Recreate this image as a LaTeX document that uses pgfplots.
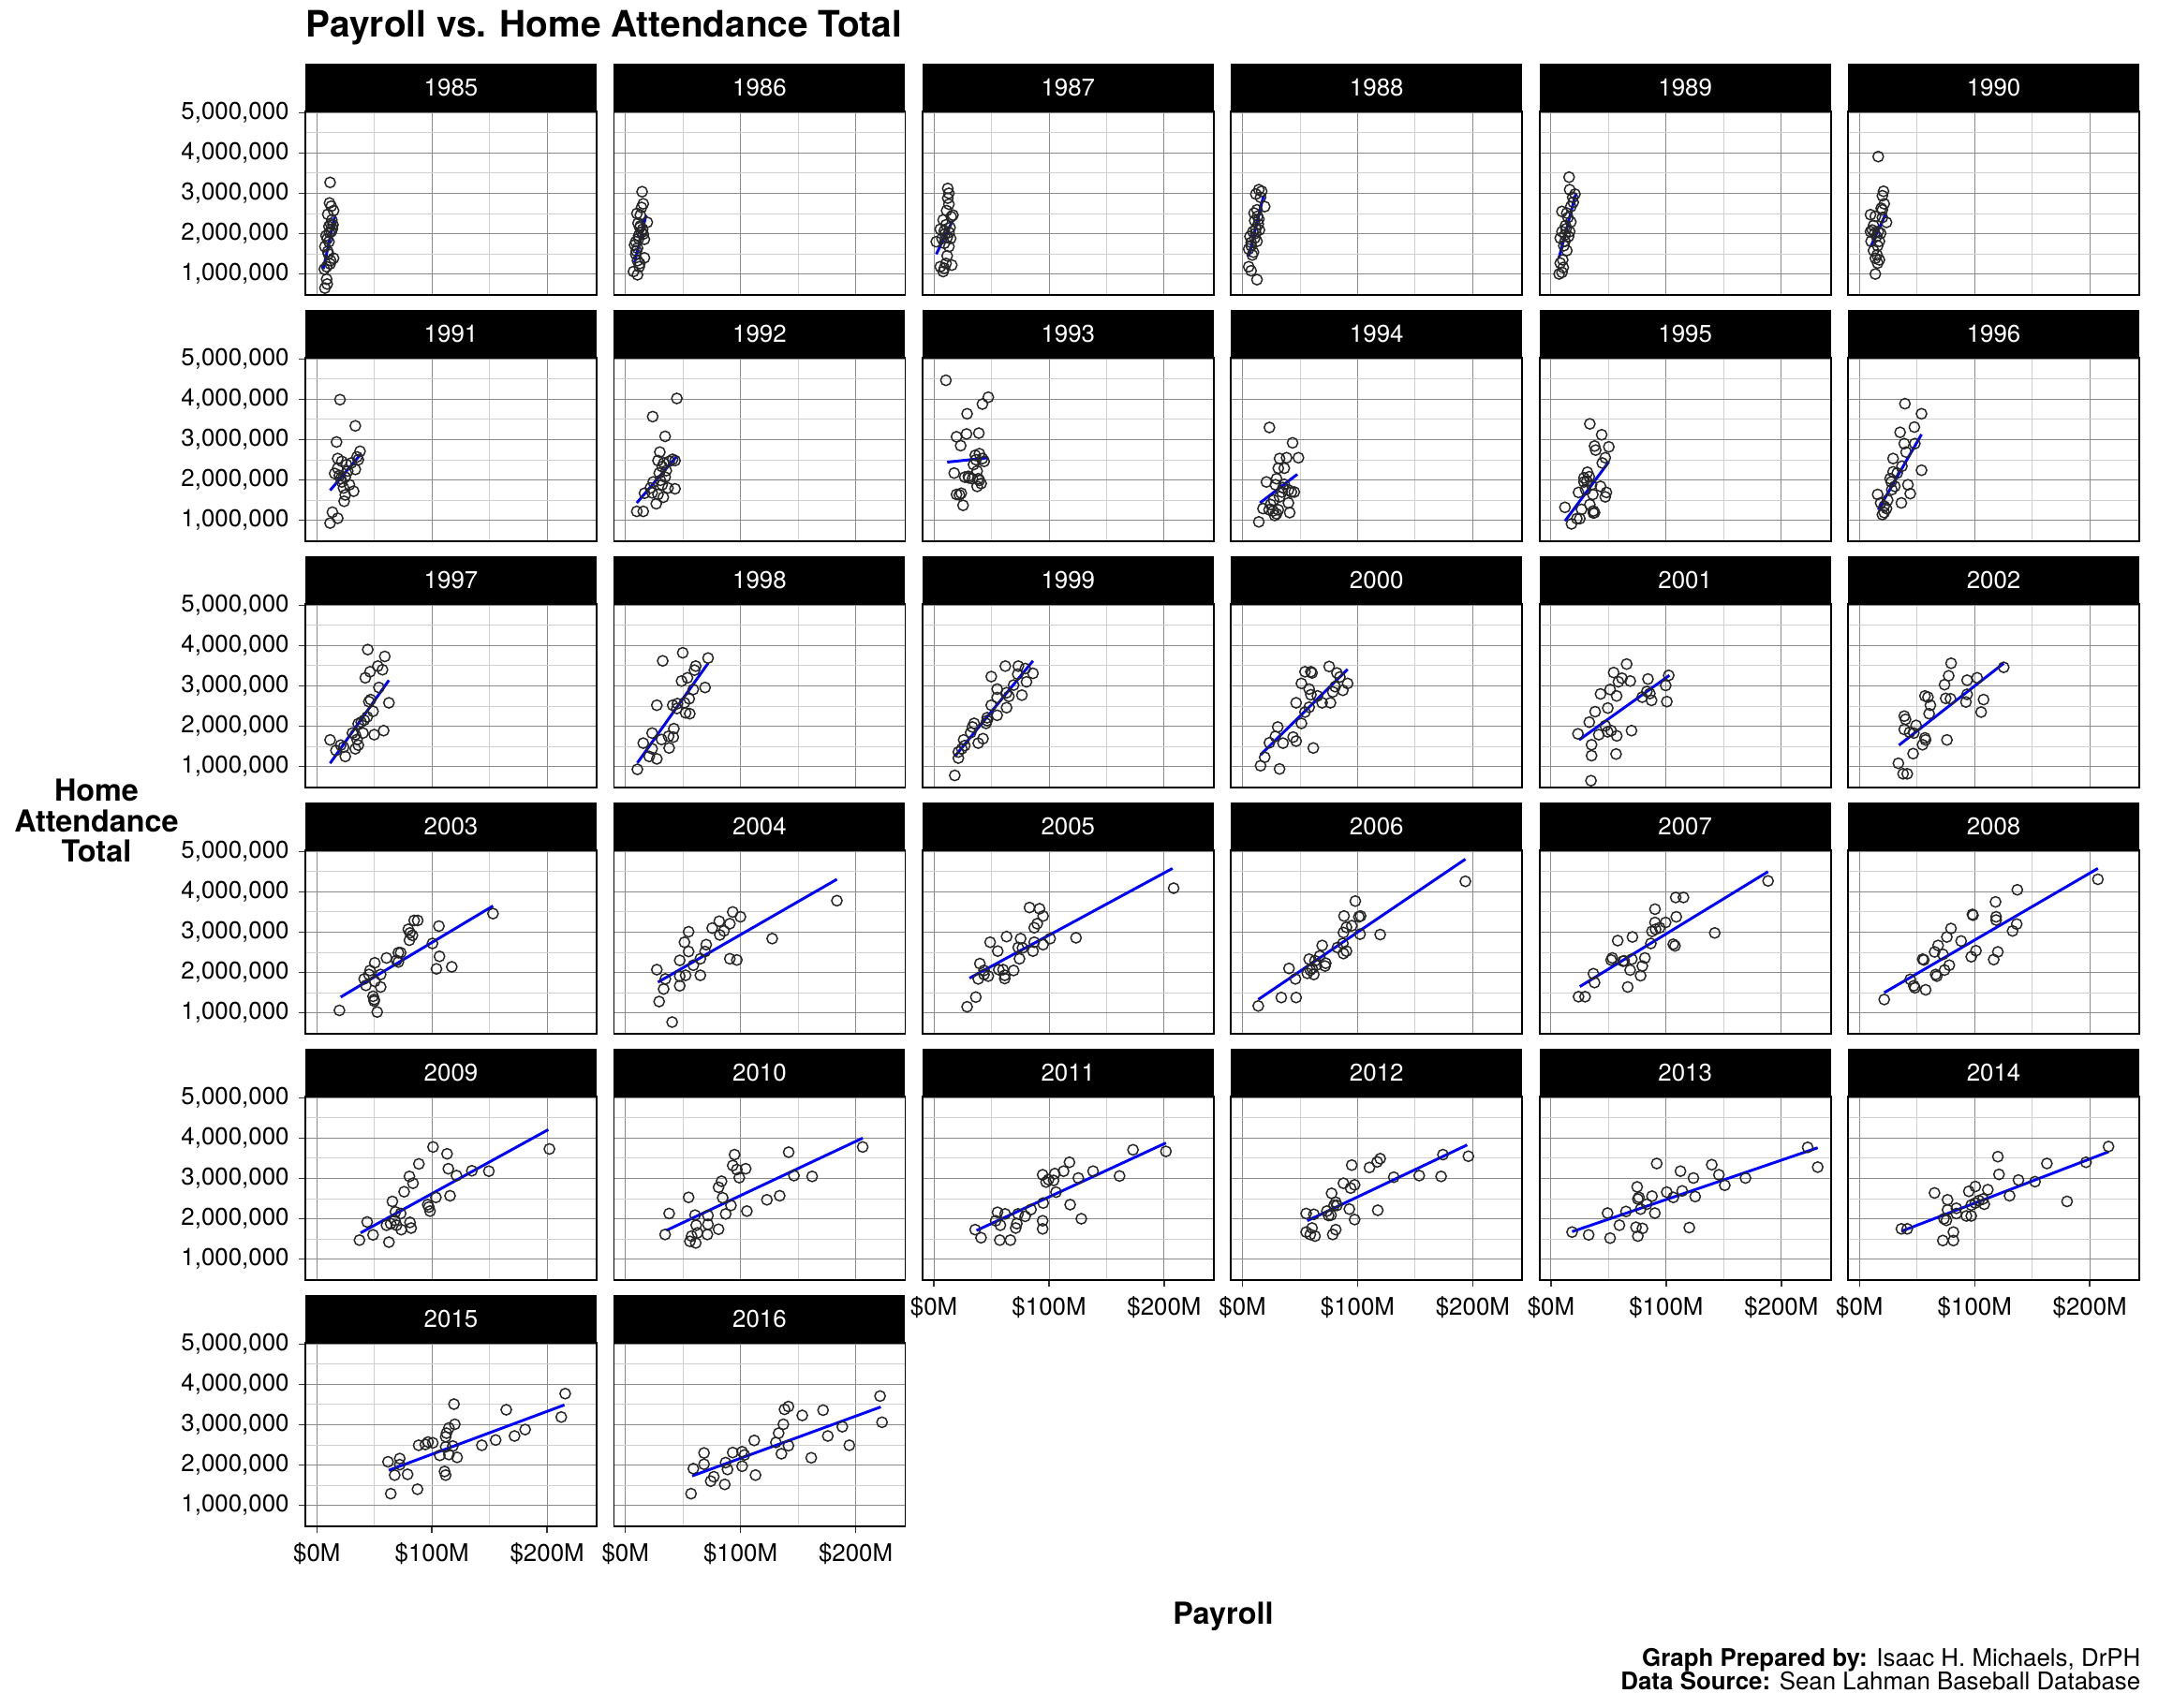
\documentclass[border=0pt]{standalone}
\usepackage{fontspec}
\setmainfont{TeX Gyre Heros}
\usepackage{pgfplots}
\pgfplotsset{compat=1.18}

% one facet = one season; payroll in $M, attendance in millions
\pgfplotsset{
  facet/.style={
    anchor=north west, scale only axis, width=105.74pt, height=66.64pt,
    xmin=-10, xmax=243, ymin=0.48, ymax=5.03,
    xtick={0,100,200}, minor xtick={50,150},
    ytick={1,2,3,4,5}, minor ytick={0.5,1.5,2.5,3.5,4.5},
    grid=both,
    major grid style={black!45, line width=0.35pt},
    minor grid style={black!18, line width=0.3pt},
    axis line style={black, line width=0.6pt},
    tick align=outside, xtick pos=bottom, ytick pos=left,
    major tick length=2.4pt, minor tick length=0pt,
    tick style={black!80, line width=0.5pt},
    xticklabels={}, yticklabels={},
    ticklabel style={font=\fontsize{8.8}{9}\selectfont, text=black},
    title style={at={(0.5,1)}, anchor=south, yshift=-6pt, fill=black, text=white,
      minimum width=105.74pt, minimum height=17pt, inner sep=0pt,
      font=\fontsize{8.8}{9}\selectfont},
  },
  nox/.style={xtick style={draw=none}},
  noy/.style={ytick style={draw=none}},
  xl/.style={xticklabels={\$0M,\$100M,\$200M}},
  yl/.style={yticklabels={{1,000,000},{2,000,000},{3,000,000},{4,000,000},{5,000,000}}},
}

\newcommand{\facet}[6]{%
  \begin{axis}[facet, at={({110.84pt+112pt*#1},{-40.46pt-89.42pt*#2})}, title={#3}, #6]
    \addplot[only marks, mark=o, mark size=1.9pt, mark options={draw=black!85, line width=0.5pt}] coordinates {#4};
    \addplot[blue, line width=1pt, no marks] coordinates {#5};
  \end{axis}}

\begin{document}
\begin{tikzpicture}
\useasboundingbox (0,0) rectangle (783.36pt,-620.16pt);

\node[anchor=west, inner sep=0pt, font=\bfseries\fontsize{13.2}{14}\selectfont] at (110.84pt,-9.9pt) {Payroll vs. Home Attendance Total};

% row 0
\facet{0}{0}{1985}{(11.5,3.27)(11.0,2.76)(12.5,2.68)(14.5,2.57)(9.5,2.48)(13.0,2.34)(12.0,2.24)(14.0,2.22)(10.5,2.18)(13.5,2.12)(11.0,2.03)(9.0,1.87)(10.5,1.80)(7.0,1.68)(9.5,1.56)(14.5,1.39)(12.0,1.33)(8.5,1.18)(6.5,1.12)(11.5,1.25)(8.5,0.87)(9.0,0.75)(7.0,0.65)(10.0,1.50)(12.5,2.05)(8.0,1.95)}{(5.5,1.12)(15.5,2.42)}{nox,yl}
\facet{1}{0}{1986}{(14.5,3.04)(15.5,2.74)(14,2.65)(10,2.50)(13,2.46)(19,2.28)(12.5,2.15)(15.5,1.99)(11.5,1.95)(16.5,1.86)(8,1.72)(10.5,1.64)(9,1.49)(16.5,1.40)(10.5,1.33)(12.5,1.26)(7,1.06)(10.5,0.98)(11.5,1.88)(14,2.03)(9.5,1.57)(12,1.18)(13,2.19)(15,2.11)(9,1.80)(11,2.26)}{(8,1.29)(18,2.46)}{nox,noy}
\facet{2}{0}{1987}{(12,3.12)(13,3.0)(12,2.88)(13,2.73)(16.5,2.46)(8,2.34)(10.5,2.22)(14,2.15)(5.5,2.11)(9,2.07)(13,2.03)(11.5,1.91)(14.5,1.88)(2,1.80)(9,1.76)(13,1.68)(11.5,1.45)(15.5,1.22)(5.5,1.18)(9,1.14)(8,1.06)(10.5,1.26)(7,1.88)(15,2.42)(11,2.57)(9.5,1.99)}{(2,1.49)(16.5,2.34)}{nox,noy}
\facet{3}{0}{1988}{(14.2,3.09)(16.7,3.05)(11.6,2.98)(15.7,2.9)(19.3,2.67)(12.6,2.59)(13.1,2.43)(10.6,2.32)(13.7,2.24)(11.6,2.12)(14.7,2.09)(9,2.05)(6.5,1.93)(10.6,1.89)(12.6,1.81)(7.5,1.70)(5.4,1.62)(9.5,1.54)(8.5,1.47)(5.4,1.18)(7.5,1.08)(12.6,0.86)(11.6,2.01)(14.2,2.36)(10.1,2.51)(7.5,1.78)}{(5.4,1.43)(18.3,2.94)}{nox,noy}
\facet{4}{0}{1989}{(15.7,3.40)(16.2,3.09)(20.8,2.98)(18.8,2.9)(9.5,2.55)(13.7,2.51)(17.2,2.29)(13.1,2.12)(9.5,2.05)(12.1,1.97)(15.2,1.93)(8,1.89)(12.1,1.81)(13.7,1.58)(10.1,1.35)(8,1.27)(9.5,1.04)(7,1.0)(17.2,2.67)(14.7,2.40)(11.1,1.70)(19.3,2.78)(12.6,2.20)(10.6,1.16)(16.2,2.05)}{(7,1.41)(21.4,2.98)}{nox,noy}
\facet{5}{0}{1990}{(16.2,3.91)(20.8,3.05)(19.8,2.94)(21.4,2.74)(19.8,2.59)(9.5,2.47)(13.7,2.43)(23.4,2.28)(11,2.09)(16.2,2.05)(18.3,2.01)(17.2,1.81)(9.5,2.05)(12.1,1.58)(15.2,1.47)(13.7,1.39)(15.7,1.27)(13.7,1.0)(18.8,2.63)(12.1,2.20)(15.7,1.70)(14.7,1.93)(10,1.81)(19.8,2.40)(17.2,1.35)(13.1,2.01)}{(10,1.70)(22.4,2.47)}{nox,noy}

% row 1
\facet{0}{1}{1991}{(20.1,3.99)(33.4,3.34)(17.1,2.94)(37.5,2.71)(34.9,2.57)(18.1,2.53)(21.7,2.46)(25.8,2.38)(33.4,2.26)(18.1,2.29)(15.5,2.16)(19.6,2.11)(24.7,2.07)(20.7,2.03)(28.3,1.88)(23.2,1.80)(31.9,1.72)(24.7,1.63)(23.7,1.47)(13.5,1.20)(18.1,1.05)(11.5,0.93)(29.9,2.42)(26.8,2.22)(21.7,1.95)(36,2.50)}{(11.5,1.74)(38.5,2.65)}{nox,yl}
\facet{1}{1}{1992}{(44.7,4.02)(23.7,3.57)(34.5,3.08)(29.9,2.69)(28.3,2.48)(43.1,2.48)(41,2.51)(31.9,2.33)(35.5,2.23)(29.4,2.17)(34.5,2.07)(24.2,1.95)(31.9,1.88)(37,1.80)(43.1,1.78)(23.2,1.68)(28.3,1.64)(32.9,1.57)(16.6,1.67)(26.8,1.41)(9.9,1.22)(15.5,1.22)(38,2.46)(30.4,1.99)(21.7,1.80)(33.4,2.42)}{(9.9,1.43)(44.7,2.59)}{nox,noy}
\facet{2}{1}{1993}{(10.4,4.47)(47.2,4.05)(42.1,3.88)(28.8,3.64)(39,3.16)(28.3,3.14)(19.6,3.07)(23.2,2.85)(35.9,2.61)(39.5,2.65)(43.6,2.46)(34.4,2.38)(37.5,2.22)(17.6,2.17)(26.8,2.07)(30.3,2.05)(38.5,2.03)(41,1.91)(37.5,1.84)(19.6,1.64)(23.7,1.67)(25.3,1.37)(33.4,2.03)(42.1,2.53)(29.9,2.09)(22.1,1.63)(39.5,1.99)(36.5,2.50)}{(11.5,2.44)(47.2,2.55)}{nox,noy}
\facet{3}{1}{1994}{(23.4,3.30)(43.5,2.92)(32.2,2.53)(38.3,2.55)(48.6,2.55)(31.1,2.29)(36.3,2.29)(20.8,1.95)(29.6,2.03)(28.6,1.88)(36.3,1.89)(39.9,1.75)(42.5,1.70)(45,1.70)(32.2,1.58)(27,1.50)(39.9,1.43)(17.8,1.29)(23.1,1.26)(26.5,1.23)(31.1,1.26)(28,1.12)(29.6,1.16)(41,1.19)(14.2,0.96)(35.2,1.81)(24.4,1.39)(34.2,1.70)}{(15.2,1.43)(47.6,2.14)}{nox,noy}
\facet{4}{1}{1995}{(33.7,3.39)(44,3.12)(37.8,2.84)(38.8,2.74)(50.2,2.82)(47.1,2.55)(31.6,2.19)(28.6,2.05)(31.1,1.97)(35.2,1.88)(43,1.84)(23.9,1.69)(36.3,1.64)(48.1,1.69)(47.1,1.58)(12.1,1.32)(26.5,1.27)(33.7,1.39)(36.8,1.23)(36.8,1.18)(22.4,1.04)(25,1.04)(17.8,0.91)(30.1,1.76)(33.2,2.08)(28.6,1.95)(37.8,1.19)(44.5,2.42)}{(12.1,0.98)(50.2,2.45)}{nox,noy}
\facet{5}{1}{1996}{(39.4,3.89)(53.8,3.64)(47.6,3.31)(35.2,3.18)(38.8,2.90)(48,2.90)(40.4,2.69)(29.1,2.53)(53.8,2.24)(29.1,2.20)(32.7,2.17)(26.5,2.03)(42,1.88)(30.6,1.84)(28,1.76)(44,1.66)(15.7,1.64)(36.3,1.43)(18.3,1.43)(21.4,1.35)(21.4,1.19)(19.8,1.14)(23.4,1.29)(27.5,1.95)(36.8,2.34)(24.4,1.50)}{(16.2,1.26)(53.8,3.13)}{nox,noy}

% row 2
\facet{0}{2}{1997}{(44.2,3.90)(59,3.73)(52.9,3.49)(57,3.40)(46.2,3.35)(42.1,3.20)(53.9,2.96)(46.7,2.66)(45.2,2.61)(62.6,2.58)(48.8,2.37)(43.7,2.23)(38.5,2.10)(35.9,2.06)(58,1.89)(49.8,1.79)(40.1,1.83)(33.4,1.79)(11.5,1.66)(20.7,1.53)(36,1.53)(16.6,1.40)(24.7,1.25)(33.4,1.44)(34.9,1.67)(30.9,1.83)(41.1,2.15)(23.2,1.48)}{(11.5,1.08)(62.6,3.14)}{nox,yl}
\facet{1}{2}{1998}{(49.8,3.82)(32.4,3.62)(71.8,3.69)(61.1,3.49)(60,3.39)(48.8,3.12)(53.9,3.20)(69.2,2.96)(58.9,2.91)(55.4,2.68)(51.3,2.58)(27.3,2.52)(41.1,2.52)(44.7,2.44)(52.3,2.33)(55.9,2.31)(42.1,1.94)(23.2,1.83)(37.5,1.75)(41.6,1.73)(15.5,1.58)(23.2,1.44)(38,1.46)(20.7,1.25)(27.3,1.19)(10.4,0.93)(45.2,2.56)(31.4,1.67)}{(10.4,1.09)(71.8,3.56)}{nox,noy}
\facet{2}{2}{1999}{(62,3.49)(73.3,3.49)(79.4,3.43)(86,3.31)(49.8,3.23)(72.8,3.29)(80.4,3.10)(69.2,3.02)(54.9,2.92)(63.1,2.83)(76.4,2.77)(54.9,2.71)(65.1,2.74)(49.8,2.52)(63.1,2.46)(54.9,2.27)(46.2,2.21)(45.2,2.07)(34.9,2.07)(31.9,1.84)(42.6,1.69)(38.5,1.58)(25.8,1.66)(24.2,1.44)(21.2,1.36)(21.2,1.21)(18.1,0.78)(26.8,1.52)(33.4,1.98)(46.2,2.14)}{(18.1,1.25)(86,3.62)}{nox,noy}
\facet{3}{2}{2000}{(75.3,3.48)(54.3,3.35)(60.4,3.32)(59.4,3.35)(82,3.32)(84.6,3.22)(91.3,3.06)(51.2,3.06)(57.9,2.92)(87.2,2.89)(78.4,2.85)(59.4,2.78)(46.6,2.58)(69.2,2.58)(76.4,2.58)(57.9,2.47)(54.3,2.35)(51.2,2.07)(30.6,1.98)(28.6,1.75)(44,1.73)(23.4,1.59)(35.2,1.58)(46.6,1.63)(61.5,1.46)(19.3,1.23)(15.7,1.02)(32.2,0.94)(80.5,2.98)(65.1,2.75)}{(15.7,1.29)(91.3,3.41)}{nox,noy}
\facet{4}{2}{2001}{(65.7,3.54)(54.4,3.33)(61.6,3.19)(58.5,3.10)(68.8,3.12)(84.2,3.17)(102.2,3.26)(99.6,3.01)(51.3,2.91)(57,2.75)(43,2.80)(79.2,2.72)(85.8,2.81)(87.3,2.64)(100.6,2.61)(49.3,2.45)(38.3,2.36)(33.2,2.10)(47.1,2.01)(52.2,1.89)(49.2,1.86)(69.9,1.89)(23.4,1.81)(41.5,1.79)(57.1,1.76)(35.2,1.54)(35.2,1.27)(56.5,1.31)(34.7,0.65)(83.2,2.86)}{(24.4,1.66)(102.8,3.26)}{nox,noy}
\facet{5}{2}{2002}{(79.5,3.56)(77.4,3.25)(102.1,3.20)(93.4,3.14)(125.2,3.46)(73.8,3.03)(56.8,2.75)(59.4,2.72)(74.8,2.69)(93.4,2.79)(107.7,2.66)(92.4,2.60)(61.5,2.52)(105.6,2.35)(60.4,2.31)(38.8,2.25)(39.9,2.17)(49.1,2.02)(38.8,1.92)(43.5,1.85)(56.8,1.71)(57.3,1.66)(54.7,1.54)(75.9,1.66)(46.5,1.32)(33.7,1.08)(37.8,0.82)(41.4,0.82)(47.1,1.83)(79,2.68)}{(34.2,1.53)(125.2,3.56)}{nox,noy}

% row 3
\facet{0}{3}{2003}{(153,3.46)(84.5,3.29)(87.6,3.29)(106,3.15)(79.4,3.07)(80.9,2.98)(83,2.92)(80.4,2.80)(100.4,2.72)(72.8,2.49)(70.8,2.49)(60.5,2.36)(69.2,2.30)(70.8,2.26)(106.5,2.40)(50.3,2.24)(103.9,2.09)(117.2,2.14)(46.2,2.05)(55.4,1.95)(41.1,1.84)(50.3,1.78)(42.6,1.68)(55.4,1.64)(48.8,1.41)(49.8,1.33)(49.8,1.29)(19.6,1.06)(52.4,1.02)(45.2,1.95)}{(20.7,1.39)(153,3.65)}{nox,yl}
\facet{1}{3}{2004}{(183.7,3.78)(93.2,3.50)(99.9,3.38)(81.5,3.27)(90.7,3.21)(75.4,3.10)(85.6,3.03)(54.9,3.01)(82,2.93)(51.3,2.75)(127.5,2.84)(54.9,2.52)(69.2,2.52)(65.1,2.34)(47.2,2.30)(59,2.18)(90.7,2.34)(96.8,2.31)(27.3,2.07)(52.3,1.93)(47.2,1.91)(65.1,1.93)(34.7,1.84)(47.2,1.67)(33.2,1.59)(29.3,1.28)(40.6,0.77)(70.2,2.69)}{(28.3,1.76)(183.7,4.31)}{nox,noy}
\facet{2}{3}{2005}{(208.2,4.09)(83,3.61)(91.7,3.58)(94.8,3.40)(89.7,3.21)(87.1,3.11)(63.1,2.89)(48.8,2.75)(75.3,2.84)(100.9,2.84)(123.4,2.86)(87.1,2.75)(94.8,2.69)(73.2,2.62)(86,2.53)(55.4,2.53)(74.3,2.34)(39.9,2.22)(43.5,2.05)(56.3,2.07)(69.2,2.05)(61.5,1.93)(43.5,1.95)(61.5,1.85)(38.5,1.84)(47.2,1.91)(36.4,1.39)(28.8,1.15)(76.9,2.61)(60,2.07)}{(30.9,1.86)(207.2,4.58)}{nox,noy}
\facet{3}{3}{2006}{(193.6,4.26)(98,3.77)(88.2,3.40)(101.1,3.38)(102.6,3.40)(94.9,3.16)(90.3,3.12)(87.7,2.99)(102.1,2.95)(119.6,2.94)(82.5,2.62)(87.2,2.72)(69.2,2.67)(90.3,2.53)(87.7,2.47)(67.1,2.41)(57.9,2.33)(63,2.29)(71.7,2.16)(60.4,2.10)(56.3,1.98)(61.9,1.95)(40.4,2.10)(46,1.84)(33.7,1.38)(46.6,1.38)(13.7,1.17)(64,2.18)(72.3,2.23)(58.9,2.06)}{(13.7,1.33)(193.6,4.81)}{nox,noy}
\facet{4}{3}{2007}{(188.5,4.27)(108.3,3.86)(115,3.86)(90.3,3.57)(108.8,3.38)(90.3,3.24)(99.5,3.24)(94.4,3.11)(87.7,3.02)(90.8,3.07)(142.2,2.98)(57.9,2.79)(70.7,2.88)(86.7,2.72)(106.2,2.70)(107.7,2.66)(53.2,2.36)(52.2,2.31)(62.5,2.28)(70.2,2.33)(81.5,2.36)(68.7,2.06)(79.3,2.16)(77.8,1.92)(36.8,1.97)(37.8,1.75)(66.6,1.64)(23.9,1.40)(29.6,1.40)(63.5,2.29)}{(25,1.65)(188.5,4.50)}{nox,noy}
\facet{5}{3}{2008}{(207,4.31)(137,4.05)(118.1,3.75)(98,3.44)(98.5,3.42)(118.6,3.38)(118.6,3.30)(136.5,3.20)(79.4,3.09)(132.9,3.03)(75.8,2.88)(88.2,2.78)(68.2,2.67)(72.4,2.45)(65.2,2.51)(54.8,2.33)(55.8,2.31)(101.1,2.54)(97,2.39)(120.1,2.51)(116.5,2.32)(77.9,2.18)(73.8,2.06)(66.1,1.95)(67.1,1.91)(44,1.83)(47.1,1.67)(48.1,1.62)(57.4,1.57)(21.4,1.33)}{(21.4,1.50)(207,4.58)}{nox,noy}

% row 4
\facet{0}{4}{2009}{(202,3.73)(100.9,3.78)(113.1,3.61)(88.6,3.36)(114.2,3.24)(134.6,3.19)(149.4,3.18)(121.3,3.07)(80.4,3.05)(83.5,2.88)(75.8,2.67)(103.4,2.53)(115.7,2.57)(65.6,2.43)(96.3,2.35)(97.3,2.29)(98.3,2.19)(68.2,2.17)(72.8,2.13)(43.7,1.92)(60.5,1.84)(64.1,1.88)(69.2,1.84)(80.9,1.91)(81.9,1.77)(73.3,1.73)(48.8,1.60)(37,1.47)(62.6,1.42)(67.7,1.96)}{(38,1.65)(201,4.21)}{nox,yl}
\facet{1}{4}{2010}{(206.1,3.78)(141.8,3.65)(94.8,3.59)(93.2,3.32)(104.5,3.24)(96.8,3.22)(98.9,3.02)(146.4,3.07)(162.2,3.05)(83.5,2.93)(80.9,2.78)(84.5,2.52)(54.9,2.53)(134,2.57)(122.9,2.47)(91.7,2.33)(105.5,2.19)(38,2.13)(60.5,2.09)(71.7,2.08)(61.5,1.84)(71.7,1.86)(80.9,1.74)(34.5,1.61)(57.5,1.57)(71.2,1.61)(56,1.44)(61.1,1.40)(62.6,1.65)(87.1,2.12)}{(35.5,1.71)(206.1,4.00)}{nox,noy}
\facet{2}{4}{2011}{(201.5,3.67)(172.9,3.71)(161.2,3.06)(117.7,3.40)(112.6,3.18)(105,3.12)(138.2,3.18)(125.4,3.01)(94.4,3.09)(99.5,2.97)(97.4,2.91)(103.9,2.95)(106,2.66)(118.3,2.35)(128,2.0)(94.9,2.39)(84.3,2.23)(79.2,2.06)(73,2.12)(61.8,2.12)(55.2,2.16)(53.6,1.95)(57.7,1.84)(72,1.88)(71,1.77)(94.4,1.95)(94.4,1.75)(35.8,1.73)(40.9,1.53)(57.2,1.47)(66.4,1.47)}{(37,1.71)(201.5,3.88)}{xl,noy}
\facet{3}{4}{2012}{(196.2,3.55)(174.1,3.59)(153.5,3.07)(172.5,3.05)(131.4,3.03)(119.6,3.49)(117,3.41)(110.3,3.27)(94.9,3.33)(87.7,2.88)(97.4,2.84)(93.9,2.76)(77.4,2.63)(81,2.41)(82,2.33)(92.8,2.24)(117.5,2.21)(55.3,2.13)(62,2.11)(73.3,2.19)(74.8,2.08)(76.9,2.09)(97.4,1.98)(81,1.73)(60.4,1.77)(55.3,1.67)(58.9,1.61)(63,1.57)(78.4,1.61)(79.5,2.33)}{(56.3,1.95)(195.1,3.83)}{xl,noy}
\facet{4}{4}{2013}{(222.9,3.77)(231.6,3.28)(91.8,3.37)(139.6,3.34)(145.8,3.09)(112.4,3.18)(123.7,3.01)(168.9,3.01)(150.9,2.83)(74.8,2.79)(100.5,2.66)(113.9,2.69)(106.2,2.53)(125.2,2.55)(87.7,2.56)(76.4,2.53)(75.4,2.49)(83.1,2.36)(77.8,2.24)(90.2,2.14)(65.1,2.18)(49.1,2.14)(59.4,1.84)(73.8,1.79)(79.4,1.76)(75.4,1.57)(120.1,1.78)(32.7,1.60)(18.3,1.67)(51.3,1.52)}{(18.3,1.68)(231.6,3.76)}{xl,noy}
\facet{5}{4}{2014}{(216.2,3.79)(196.7,3.40)(162.7,3.37)(120.1,3.54)(121.1,3.10)(138,2.96)(152.4,2.92)(130.3,2.57)(180.2,2.43)(100.5,2.80)(94.9,2.68)(111.4,2.72)(65.1,2.64)(107.2,2.49)(103.6,2.45)(100.5,2.39)(108.3,2.36)(97,2.34)(76.4,2.47)(76.4,2.22)(84.1,2.26)(84.1,2.13)(92.8,2.07)(97,2.07)(73.3,2.0)(75.4,1.96)(36.3,1.75)(41.4,1.75)(81.5,1.67)(72.3,1.46)(81.5,1.46)}{(36.3,1.69)(216.2,3.66)}{xl,noy}

% row 5
\facet{0}{5}{2015}{(215.7,3.77)(212.3,3.19)(119.1,3.51)(164.5,3.37)(119.8,3.01)(114.7,2.92)(112.6,2.79)(111.9,2.70)(180.9,2.88)(171.7,2.72)(155.3,2.62)(143.3,2.49)(96.6,2.57)(100.7,2.55)(94.2,2.51)(88.4,2.49)(111.9,2.45)(118.1,2.47)(106.8,2.24)(114.7,2.26)(121.8,2.19)(61.8,2.08)(72,2.16)(72,2.01)(67.6,1.75)(78.8,1.77)(110.9,1.84)(111.9,1.75)(87.4,1.40)(64.2,1.29)}{(62.5,1.87)(215,3.49)}{xl,yl}
\facet{1}{5}{2016}{(221.2,3.71)(222.9,3.06)(141.6,3.45)(138.2,3.38)(171.7,3.36)(153.6,3.23)(137.2,3.01)(133.1,2.79)(130.7,2.56)(141.6,2.48)(175.8,2.72)(188.4,2.95)(194.5,2.49)(111.9,2.61)(93.2,2.31)(101.4,2.33)(103.4,2.25)(135.5,2.28)(68.3,2.30)(68.3,2.02)(87,2.06)(101.4,1.97)(88.7,1.89)(59,1.91)(113,1.75)(161.4,2.18)(76.8,1.71)(74.1,1.60)(86.3,1.52)(57,1.29)}{(58,1.73)(221.8,3.44)}{xl,noy}

\node[align=center, font=\bfseries\fontsize{11}{11}\selectfont] at (35pt,-298pt) {Home\\Attendance\\Total};
\node[font=\bfseries\fontsize{11}{12}\selectfont] at (444pt,-587pt) {Payroll};
\node[anchor=east, inner sep=0pt, align=right, font=\fontsize{8.8}{8.6}\selectfont] at (777.2pt,-606pt)
  {\textbf{Graph Prepared by:} Isaac H. Michaels, DrPH\\\textbf{Data Source:} Sean Lahman Baseball Database};
\end{tikzpicture}
\end{document}
